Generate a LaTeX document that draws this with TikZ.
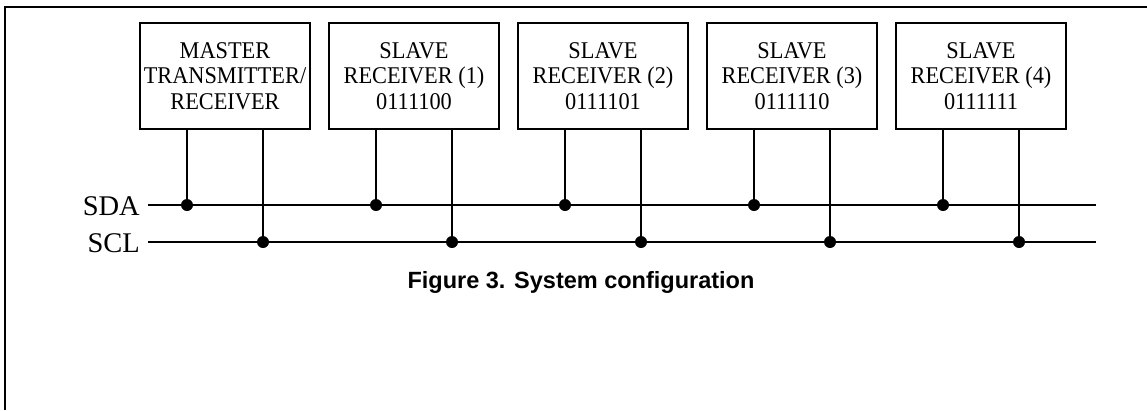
\documentclass[tikz,border=0pt]{standalone}
\usepackage{fontspec}
\setmainfont{Liberation Serif}
\setsansfont{Liberation Sans}
\newfontfamily\boxfont[FakeStretch=0.93]{Liberation Serif}
\begin{document}
\begin{tikzpicture}[x=1pt,y=-1pt,
  wire/.style={line width=1.9pt},
  unit/.style={draw, line width=1.9pt, minimum width=170pt, minimum height=106pt, inner sep=0pt, align=center, font=\boxfont\fontsize{24}{25.5}\selectfont},
  dot/.style={circle, fill=black, inner sep=0pt, minimum size=12pt},
  bus/.style={font=\fontsize{28.5}{30}\selectfont, anchor=east, inner sep=0pt}]
\useasboundingbox (0,0) rectangle (1147,410);
\draw[line width=2.4pt] (5,410) -- (5,7) -- (1147,7);
\node[unit] (b1) at (225,76) {MASTER\\TRANSMITTER/\\RECEIVER};
\node[unit] (b2) at (414,76) {SLAVE\\RECEIVER (1)\\0111100};
\node[unit] (b3) at (603,76) {SLAVE\\RECEIVER (2)\\0111101};
\node[unit] (b4) at (792,76) {SLAVE\\RECEIVER (3)\\0111110};
\node[unit] (b5) at (981,76) {SLAVE\\RECEIVER (4)\\0111111};
\coordinate (sdaL) at (148,205);
\coordinate (sdaR) at (1096,205);
\coordinate (sclL) at (148,242);
\coordinate (sclR) at (1096,242);
\draw[wire] (sdaL) -- (sdaR);
\draw[wire] (sclL) -- (sclR);
\node[bus] (sda) at (140,206) {SDA};
\node[bus] (scl) at (140,243) {SCL};
\foreach \i in {1,...,5}{
  \draw[wire] ([xshift=-38pt]b\i.south) -- ([xshift=-38pt]b\i.south |- sdaL) node[dot] (da\i) {};
  \draw[wire] ([xshift=38pt]b\i.south) -- ([xshift=38pt]b\i.south |- sclL) node[dot] (cl\i) {};
}
\node[font=\sffamily\bfseries\fontsize{23.5}{26}\selectfont] (cap) at (581,282) {Figure 3. System configuration};
\end{tikzpicture}
\end{document}
